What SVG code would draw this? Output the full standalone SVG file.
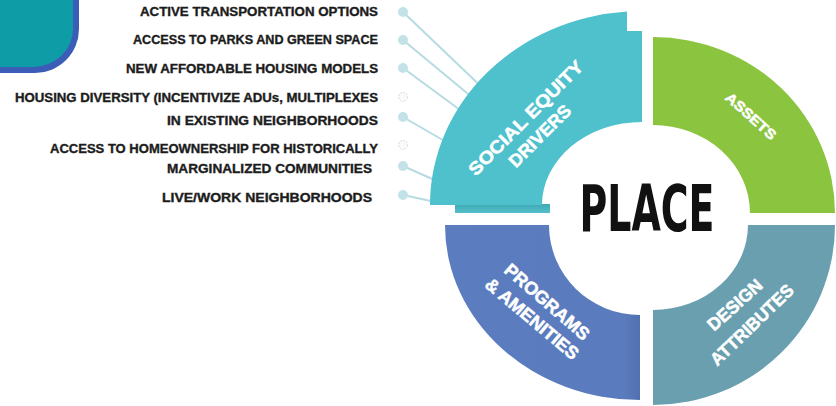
<svg xmlns="http://www.w3.org/2000/svg" width="836" height="406" viewBox="0 0 836 406">
<style>
.lbl{font-family:"Liberation Sans",Arial,sans-serif;font-weight:bold;font-size:12.5px;fill:#1c1c1c;stroke:#1c1c1c;stroke-width:0.35;text-anchor:end}
.seg{font-family:"Liberation Sans",Arial,sans-serif;font-weight:bold;font-size:18px;fill:#ffffff;stroke:#ffffff;stroke-width:0.5;text-anchor:middle}
.dot{fill:#c3e2e8}
.fdot{fill:#fafafa;stroke:#d0d0d0;stroke-width:1;stroke-dasharray:1.5 1.5}
.ln{stroke:#b6dce2;stroke-width:2;fill:none;stroke-linecap:round}
</style>
<defs>
<linearGradient id="gBlue" x1="0" y1="0" x2="1" y2="0">
<stop offset="0" stop-color="#5b7dbf"/><stop offset="0.92" stop-color="#5a7bbd"/><stop offset="1" stop-color="#5270b0"/>
</linearGradient>
<linearGradient id="gShadow" x1="0" y1="0" x2="0" y2="1">
<stop offset="0" stop-color="#3fa9b4"/><stop offset="1" stop-color="#54bfca"/>
</linearGradient>
</defs>
<rect width="836" height="406" fill="#ffffff"/>

<g id="corner">
<path d="M0,0 H79 V29 A44 44 0 0 1 35,73 H0 Z" fill="#3c5db7"/>
<path d="M0,0 H73 V29 A40 38 0 0 1 33,67 H0 Z" fill="#0e9ca7"/>
</g>

<g id="connectors">
<line class="ln" x1="403" y1="12" x2="490" y2="95"/>
<line class="ln" x1="403" y1="40" x2="485" y2="108"/>
<line class="ln" x1="403" y1="68" x2="475" y2="121"/>
<line class="ln" x1="403" y1="117" x2="460" y2="150"/>
<line class="ln" x1="403" y1="166" x2="448" y2="186"/>
<line class="ln" x1="403" y1="195" x2="440" y2="203"/>
</g>

<g id="list">
<g id="item1"><text class="lbl" x="378" y="16" textLength="238" lengthAdjust="spacingAndGlyphs">ACTIVE TRANSPORTATION OPTIONS</text><circle class="dot" cx="403" cy="12" r="5"/></g>
<g id="item2"><text class="lbl" x="378" y="44" textLength="245" lengthAdjust="spacingAndGlyphs">ACCESS TO PARKS AND GREEN SPACE</text><circle class="dot" cx="403" cy="40" r="5"/></g>
<g id="item3"><text class="lbl" x="378" y="73" textLength="252" lengthAdjust="spacingAndGlyphs">NEW AFFORDABLE HOUSING MODELS</text><circle class="dot" cx="403" cy="68" r="5"/></g>
<g id="item4"><text class="lbl" x="378" y="102" textLength="363" lengthAdjust="spacingAndGlyphs">HOUSING DIVERSITY (INCENTIVIZE ADUs, MULTIPLEXES</text><circle class="fdot" cx="403" cy="97" r="4.5"/>
<text class="lbl" x="378" y="125" textLength="211" lengthAdjust="spacingAndGlyphs">IN EXISTING NEIGHBORHOODS</text><circle class="dot" cx="403" cy="117" r="5"/></g>
<g id="item5"><text class="lbl" x="378" y="153" textLength="328" lengthAdjust="spacingAndGlyphs">ACCESS TO HOMEOWNERSHIP FOR HISTORICALLY</text><circle class="fdot" cx="403" cy="145" r="4.5"/>
<text class="lbl" x="372" y="173" textLength="205" lengthAdjust="spacingAndGlyphs">MARGINALIZED COMMUNITIES</text><circle class="dot" cx="403" cy="166" r="5"/></g>
<g id="item6"><text class="lbl" x="372" y="202" textLength="210" lengthAdjust="spacingAndGlyphs">LIVE/WORK NEIGHBORHOODS</text><circle class="dot" cx="403" cy="195" r="5"/></g>
</g>

<g id="social-equity-drivers">
<rect x="455" y="204" width="95" height="9" fill="url(#gShadow)"/>
<path d="M430,205 A212 194 0 0 1 627,11.5 L627,31 L642,31 L642,122 A100 83 0 0 0 542,205 Z" fill="#4ec1cc"/>
<g transform="translate(526,118) rotate(-45)"><text class="seg" x="0" y="6" textLength="154" lengthAdjust="spacingAndGlyphs">SOCIAL EQUITY</text></g>
<g transform="translate(540,136) rotate(-45)"><text class="seg" x="0" y="6" textLength="80" lengthAdjust="spacingAndGlyphs">DRIVERS</text></g>
</g>

<g id="assets">
<path d="M653,37 A182 176 0 0 1 835,213 L750,213 A97 88 0 0 0 653,125 Z" fill="#8bc53f"/>
<g transform="translate(751,116) rotate(42)"><text class="seg" style="font-size:14px" x="0" y="5" textLength="63" lengthAdjust="spacingAndGlyphs">ASSETS</text></g>
</g>

<g id="programs-amenities">
<path d="M640,400 A195 175 0 0 1 445,225 L549,225 A91 90 0 0 0 640,315 Z" fill="url(#gBlue)"/>
<g transform="translate(547,302) rotate(41)"><text class="seg" x="0" y="6" textLength="106" lengthAdjust="spacingAndGlyphs">PROGRAMS</text></g>
<g transform="translate(532,319) rotate(40)"><text class="seg" x="0" y="6" textLength="116" lengthAdjust="spacingAndGlyphs">&amp; AMENITIES</text></g>
</g>

<g id="design-attributes">
<path d="M835,225 A182 180 0 0 1 653,405 L653,310 A95 85 0 0 0 748,225 Z" fill="#6a9fb0"/>
<g transform="translate(735,305) rotate(-42)"><text class="seg" x="0" y="6" textLength="67" lengthAdjust="spacingAndGlyphs">DESIGN</text></g>
<g transform="translate(752,325) rotate(-44)"><text class="seg" x="0" y="6" textLength="108" lengthAdjust="spacingAndGlyphs">ATTRIBUTES</text></g>
</g>

<g id="place">
<text x="647" y="231" font-family="'Liberation Sans Narrow','DejaVu Sans Condensed',sans-serif" font-weight="bold" font-size="64" fill="#111111" text-anchor="middle" textLength="135" lengthAdjust="spacingAndGlyphs">PLACE</text>
</g>
</svg>
